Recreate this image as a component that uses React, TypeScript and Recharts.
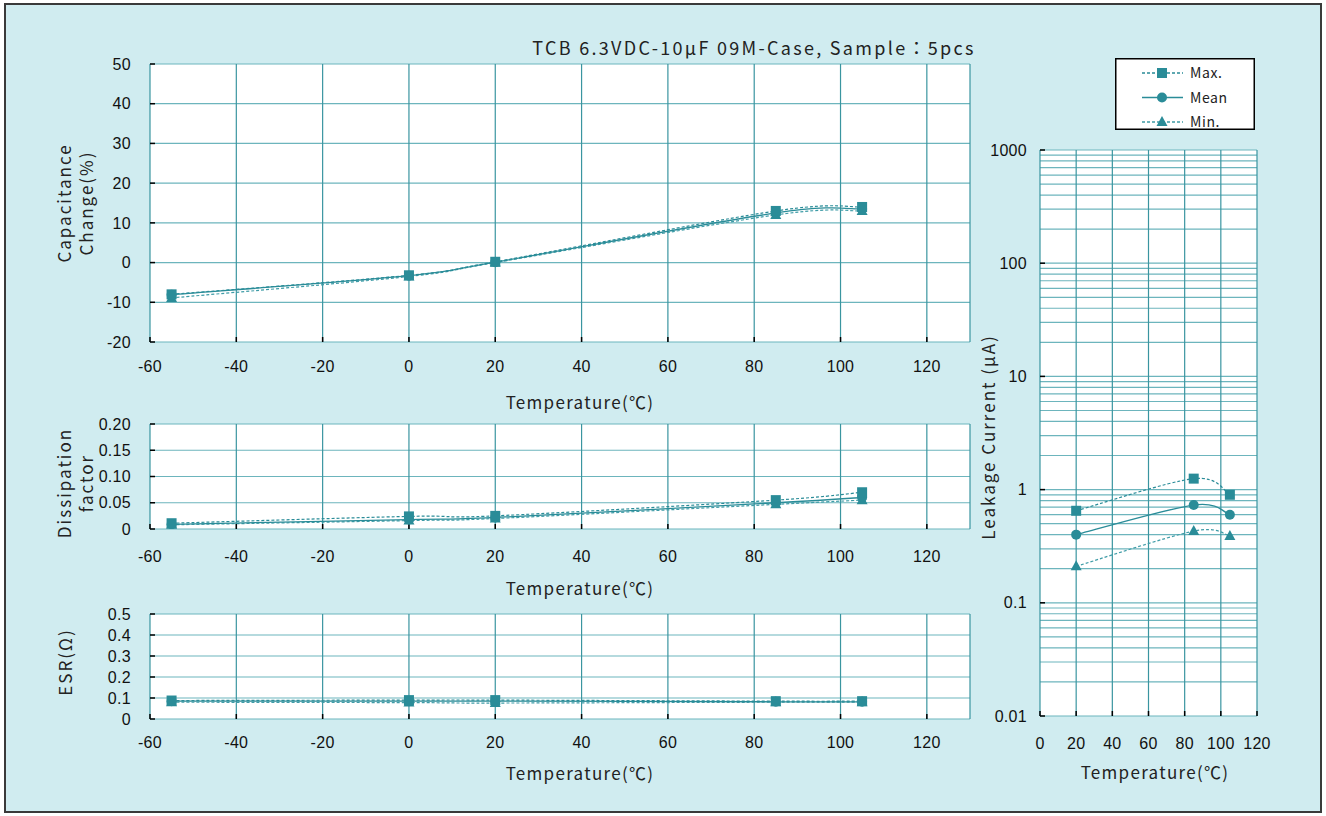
import React from "react";
import {
  LineChart,
  Line,
  XAxis,
  YAxis,
  CartesianGrid,
  ReferenceArea,
  Legend,
} from "recharts";

// measurement temperatures (°C)
const temps = [-55, 0, 20, 85, 105];
const lcTemps = [20, 85, 105];

// capacitance change (%)
const capMax = [-8.0, -3.2, 0.2, 13.0, 14.0];
const capMean = [-8.1, -3.3, 0.1, 12.5, 13.5];
const capMin = [-8.9, -3.5, 0.0, 12.0, 13.0];

// dissipation factor
const dfMax = [0.011, 0.024, 0.025, 0.055, 0.07];
const dfMean = [0.009, 0.018, 0.022, 0.05, 0.06];
const dfMin = [0.008, 0.016, 0.02, 0.047, 0.055];

// ESR (Ω)
const esrMax = [0.088, 0.09, 0.09, 0.085, 0.085];
const esrMean = [0.085, 0.085, 0.085, 0.082, 0.082];
const esrMin = [0.08, 0.078, 0.076, 0.08, 0.08];

// leakage current (µA)
const lcMax = [0.65, 1.25, 0.9];
const lcMean = [0.4, 0.73, 0.6];
const lcMin = [0.21, 0.43, 0.39];

const tempTicks = [-60, -40, -20, 0, 20, 40, 60, 80, 100, 120];
const capTicks = [-20, -10, 0, 10, 20, 30, 40, 50];
const dfTicks = [0, 0.05, 0.1, 0.15, 0.2];
const esrTicks = [0, 0.1, 0.2, 0.3, 0.4, 0.5];
const lcTempTicks = [0, 20, 40, 60, 80, 100, 120];
const lcTicks = [0.01, 0.1, 1, 10, 100, 1000];
const lcMinor = [0.01, 0.1, 1, 10, 100]
  .flatMap((d) => [1, 2, 3, 4, 5, 6, 7, 8, 9].map((m) => +(m * d).toPrecision(2)))
  .concat([1000]);

const C = "#2a8c98";
const C_LIGHT = "#3f9ca7";
const GRID_V = "#3a95a0";
const GRID_H = "#6db5bd";
const BG = "#d0ecf0";
const TICK_FONT = {
  fontSize: 16,
  fill: "#111",
  letterSpacing: 0.3,
  fontFamily: "'Liberation Sans', Arial, sans-serif",
};
const LABEL_FONT = "'Noto Sans CJK JP', 'Noto Sans', sans-serif";

// Excel-style smoothed line (Catmull-Rom through every point)
const smooth = (context: any) => {
  let px: number[] = [];
  let py: number[] = [];
  return {
    areaStart() {},
    areaEnd() {},
    lineStart() {
      px = [];
      py = [];
    },
    point(x: number, y: number) {
      px.push(+x);
      py.push(+y);
    },
    lineEnd() {
      const n = px.length;
      if (!n) return;
      context.moveTo(px[0], py[0]);
      for (let i = 0; i < n - 1; i++) {
        const a = Math.max(i - 1, 0);
        const d = Math.min(i + 2, n - 1);
        context.bezierCurveTo(
          px[i] + (px[i + 1] - px[a]) / 6,
          py[i] + (py[i + 1] - py[a]) / 6,
          px[i + 1] - (px[d] - px[i]) / 6,
          py[i + 1] - (py[d] - py[i]) / 6,
          px[i + 1],
          py[i + 1]
        );
      }
    },
  };
};

const squareDot = (p: any) => (
  <rect key={`s${p.index}`} x={p.cx - 5} y={p.cy - 5} width={10} height={10} fill={C} />
);
const circleDot = (p: any) => (
  <circle key={`c${p.index}`} cx={p.cx} cy={p.cy} r={5} fill={C} />
);
const triDot = (p: any) => (
  <path
    key={`t${p.index}`}
    d={`M${p.cx},${p.cy - 6}L${p.cx + 5.5},${p.cy + 4}L${p.cx - 5.5},${p.cy + 4}Z`}
    fill={C}
  />
);

const rowsOf = (xs: number[], max: number[], mean: number[], min: number[]) =>
  xs.map((t, i) => ({ t, max: max[i], mean: mean[i], min: min[i] }));

function Series() {
  return [
    <Line key="min" dataKey="min" type={smooth as any} stroke={C_LIGHT} strokeWidth={1.2}
      strokeDasharray="3 2" dot={triDot} activeDot={false} isAnimationActive={false} />,
    <Line key="mean" dataKey="mean" type={smooth as any} stroke={C} strokeWidth={1.3}
      dot={circleDot} activeDot={false} isAnimationActive={false} />,
    <Line key="max" dataKey="max" type={smooth as any} stroke={C} strokeWidth={1.2}
      strokeDasharray="3 2" dot={squareDot} activeDot={false} isAnimationActive={false} />,
  ];
}

type PanelProps = {
  top: number;
  height: number;
  plotTop: number;
  plotBottom: number;
  data: any[];
  yDomain: [number, number];
  yTicks: number[];
  fmt: (v: number) => string;
  tickGap: number;
};

function TempPanel({ top, height, plotTop, plotBottom, data, yDomain, yTicks, fmt, tickGap }: PanelProps) {
  return (
    <div style={{ position: "absolute", left: 0, top }}>
      <LineChart
        width={1000}
        height={height}
        data={data}
        margin={{ top: plotTop - top, right: 30, bottom: 0, left: 0 }}
      >
        <CartesianGrid fill="#fff" stroke={GRID_H} strokeWidth={1.2} vertical={false} />
        <CartesianGrid stroke={GRID_V} strokeWidth={1.2} horizontal={false} />
        <XAxis
          dataKey="t"
          type="number"
          domain={[-60, 130]}
          ticks={tempTicks}
          interval={0}
          height={top + height - plotBottom}
          tickSize={-5}
          tickMargin={tickGap}
          axisLine={false}
          tickLine={{ stroke: "#000", strokeWidth: 1.5 }}
          tick={TICK_FONT}
        />
        <YAxis
          type="number"
          domain={yDomain}
          ticks={yTicks}
          interval={0}
          width={150}
          tickSize={-5}
          tickMargin={24}
          axisLine={false}
          tickLine={{ stroke: "#000", strokeWidth: 1.5 }}
          tick={TICK_FONT}
          tickFormatter={fmt}
          allowDataOverflow
        />
        <ReferenceArea fill="none" stroke="#000" strokeWidth={1.6} fillOpacity={0} />
        {Series()}
      </LineChart>
    </div>
  );
}

function LegendBox() {
  const rows = [
    { name: "Max.", dash: "3 2", dot: "s", stroke: C },
    { name: "Mean", dash: undefined, dot: "c", stroke: C },
    { name: "Min.", dash: "3 2", dot: "t", stroke: C_LIGHT },
  ];
  return (
    <svg width={140} height={72} style={{ display: "block" }}>
      <rect x={0.75} y={0.75} width={138.5} height={70.5} fill="#fff" stroke="#000" strokeWidth={1.5} />
      {rows.map((r, i) => {
        const y = 15 + i * 24.5;
        const cx = 47;
        return (
          <g key={r.name}>
            <line x1={27} x2={68} y1={y} y2={y} stroke={r.stroke} strokeWidth={1.3} strokeDasharray={r.dash} />
            {r.dot === "s" && squareDot({ cx, cy: y, index: i })}
            {r.dot === "c" && circleDot({ cx, cy: y, index: i })}
            {r.dot === "t" && triDot({ cx, cy: y, index: i })}
            <text x={75} y={y + 5} fontSize={14} letterSpacing={0.6} fill="#222" fontFamily={LABEL_FONT}>
              {r.name}
            </text>
          </g>
        );
      })}
    </svg>
  );
}

function LeakagePanel() {
  const data = rowsOf(lcTemps, lcMax, lcMean, lcMin);
  return (
    <div style={{ position: "absolute", left: 970, top: 50 }}>
      <LineChart width={356} height={720} data={data} margin={{ top: 100, right: 69, bottom: 0, left: 0 }}>
        <CartesianGrid fill="#fff" stroke={GRID_H} strokeWidth={1.2} vertical={false}
          horizontalValues={lcMinor} />
        <CartesianGrid stroke={GRID_V} strokeWidth={1.2} horizontal={false} />
        <XAxis
          dataKey="t"
          type="number"
          domain={[0, 120]}
          ticks={lcTempTicks}
          interval={0}
          height={54}
          tickSize={-5}
          tickMargin={27}
          axisLine={false}
          tickLine={{ stroke: "#000", strokeWidth: 1.5 }}
          tick={TICK_FONT}
        />
        <YAxis
          type="number"
          scale="log"
          domain={[0.01, 1000]}
          ticks={lcTicks}
          interval={0}
          width={70}
          tickSize={-5}
          tickMargin={18}
          axisLine={false}
          tickLine={{ stroke: "#000", strokeWidth: 1.5 }}
          tick={TICK_FONT}
          allowDataOverflow
        />
        <ReferenceArea fill="none" stroke="#000" strokeWidth={1.6} fillOpacity={0} />
        {Series()}
        <Legend
          layout="vertical"
          align="center"
          verticalAlign="middle"
          content={() => <LegendBox />}
          wrapperStyle={{ left: 145, top: 8, width: 140, height: 72 }}
        />
      </LineChart>
    </div>
  );
}

function VLabel({ x, y, lines }: { x: number; y: number; lines: string[] }) {
  return (
    <div
      style={{
        position: "absolute",
        left: x,
        top: y,
        transform: "translate(-50%, -50%) rotate(-90deg)",
        whiteSpace: "nowrap",
        textAlign: "center",
        fontFamily: LABEL_FONT,
        fontSize: 17,
        letterSpacing: 2,
        lineHeight: "22px",
        color: "#222",
      }}
    >
      {lines.map((l) => (
        <div key={l}>{l}</div>
      ))}
    </div>
  );
}

function HLabel({ x, y, text, size = 17, spacing = 1.3 }: { x: number; y: number; text: string; size?: number; spacing?: number }) {
  return (
    <div
      style={{
        position: "absolute",
        left: x,
        top: y,
        transform: "translate(-50%, -50%)",
        whiteSpace: "nowrap",
        fontFamily: LABEL_FONT,
        fontSize: size,
        letterSpacing: spacing,
        color: "#222",
      }}
    >
      {text}
    </div>
  );
}

export default function App() {
  const fmt2 = (v: number) => (v === 0 ? "0" : v.toFixed(2));
  const fmt1 = (v: number) => (v === 0 ? "0" : v.toFixed(1));
  return (
    <div style={{ position: "absolute", left: 0, top: 0, width: 1326, height: 816, background: "#fff" }}>
      <div
        style={{
          position: "absolute",
          left: 4,
          top: 3,
          width: 1314,
          height: 806,
          background: BG,
          border: "2px solid #3a3a3a",
        }}
      />
      <HLabel x={754} y={47} text="TCB 6.3VDC-10μF 09M-Case, Sample：5pcs" size={18} spacing={2.3} />
      <TempPanel
        top={0}
        height={380}
        plotTop={64}
        plotBottom={342}
        data={rowsOf(temps, capMax, capMean, capMin)}
        yDomain={[-20, 50]}
        yTicks={capTicks}
        fmt={(v) => String(v)}
        tickGap={24}
      />
      <TempPanel
        top={400}
        height={180}
        plotTop={424}
        plotBottom={529}
        data={rowsOf(temps, dfMax, dfMean, dfMin)}
        yDomain={[0, 0.2]}
        yTicks={dfTicks}
        fmt={fmt2}
        tickGap={27}
      />
      <TempPanel
        top={590}
        height={180}
        plotTop={614}
        plotBottom={719}
        data={rowsOf(temps, esrMax, esrMean, esrMin)}
        yDomain={[0, 0.5]}
        yTicks={esrTicks}
        fmt={fmt1}
        tickGap={23}
      />
      <LeakagePanel />
      <VLabel x={75} y={203} lines={["Capacitance", "Change(%)"]} />
      <HLabel x={580} y={401} text="Temperature(℃)" />
      <VLabel x={75} y={483} lines={["Dissipation", "factor"]} />
      <HLabel x={580} y={587} text="Temperature(℃)" />
      <VLabel x={65} y={662} lines={["ESR(Ω)"]} />
      <HLabel x={580} y={772} text="Temperature(℃)" />
      <VLabel x={988} y={437} lines={["Leakage Current (μA)"]} />
      <HLabel x={1155} y={771} text="Temperature(℃)" />
    </div>
  );
}
